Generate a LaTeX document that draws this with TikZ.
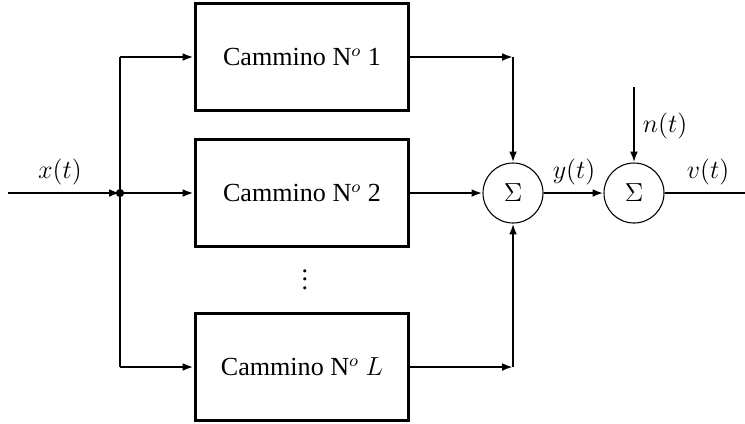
\documentclass[tikz,border=0pt]{standalone}
\usepackage{fontspec}
\setmainfont{Liberation Serif}
\usetikzlibrary{arrows.meta}
\begin{document}
\begin{tikzpicture}[x=0.46pt,y=-0.46pt,
  font=\fontsize{12}{14}\selectfont,
  blk/.style={draw,line width=1.4pt,minimum width=98.4pt,minimum height=48.8pt,inner sep=0pt},
  sumnode/.style={draw,circle,line width=0.5pt,minimum size=27.6pt,inner sep=0pt},
  sig/.style={line width=1.3pt,-{Latex[length=5pt,width=3.6pt]}},
  wire/.style={line width=1.3pt}]
\useasboundingbox (0,0) rectangle (745,423);
\node[blk] (b1) at (302,57) {Cammino N$^o$ 1};
\node[blk] (b2) at (302,193) {Cammino N$^o$ 2};
\node[blk] (bL) at (302,367) {Cammino N$^o$ $L$};
\node (dots) at (305,273) {$\vdots$};
\node[sumnode] (s1) at (513,193) {$\Sigma$};
\node[sumnode] (s2) at (634,193) {$\Sigma$};
\coordinate (in) at (8,193);
\coordinate (j) at (120,193);
\coordinate (jt) at (120,57);
\coordinate (jb) at (120,367);
\coordinate (c1) at (513,57);
\coordinate (cL) at (513,367);
\coordinate (nin) at (634,87);
\coordinate (out) at (745,193);
\draw[wire] (jt) -- (jb);
\draw[sig] (in) -- (j);
\draw[sig] (j) -- (b2);
\draw[sig] (jt) -- (b1);
\draw[sig] (jb) -- (bL);
\draw[sig] (b1) -- (c1);
\draw[sig] (c1) -- (s1);
\draw[sig] (bL) -- (cL);
\draw[sig] (cL) -- (s1);
\draw[sig] (b2) -- (s1);
\draw[sig] (s1) -- (s2);
\draw[sig] (nin) -- (s2);
\draw[wire] (s2) -- (out);
\fill (j) circle[radius=1.9pt];
\node (lx) at (60,172) {$x(t)$};
\node (ly) at (574,172) {$y(t)$};
\node (ln) at (665,126) {$n(t)$};
\node (lv) at (708,172) {$v(t)$};
\end{tikzpicture}
\end{document}
